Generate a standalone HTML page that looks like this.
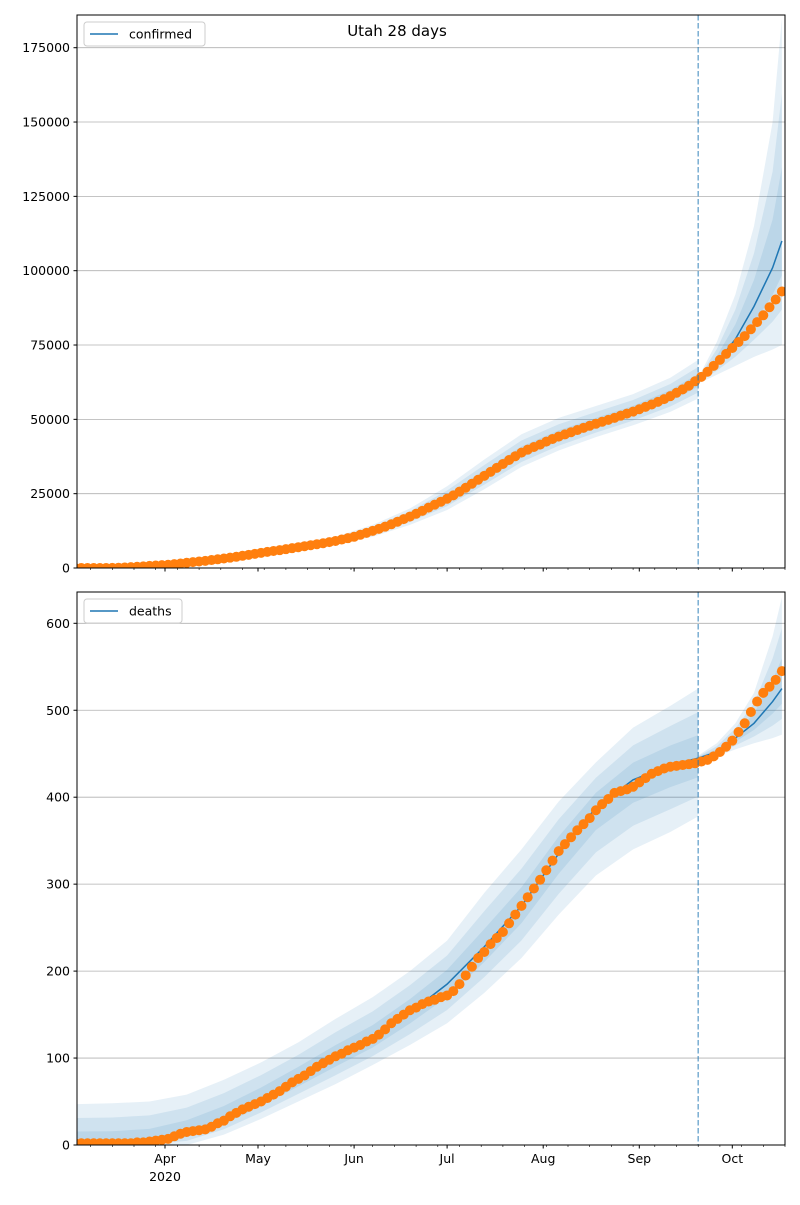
<!DOCTYPE html>
<html><head><meta charset="utf-8"><style>
body{margin:0;background:#fff}
svg text{font-family:"DejaVu Sans","Liberation Sans",sans-serif;fill:#000}
</style></head><body>
<svg id="s" width="800" height="1200" xmlns="http://www.w3.org/2000/svg">
<defs>
<clipPath id="c1"><rect x="77" y="15" width="708" height="553"/></clipPath>
<clipPath id="c2"><rect x="77" y="592" width="708" height="553"/></clipPath>
</defs>
<text x="397" y="36" text-anchor="middle" font-size="15">Utah 28 days</text>
</svg>
<script>
// day index 0 = Mar 3 2020
const monthLabels=["Apr","May","Jun","Jul","Aug","Sep","Oct"];
const monthDays=[29,59,90,120,151,182,212];
const forecastStart=201;
const obsDays=[];for(let d=0;d<=228;d+=2)obsDays.push(d);
const confObs=[0,0,0,0,5,20,50,100,180,300,420,550,700,830,960,1080,1300,1520,1750,1980,2200,2400,2670,2930,3200,3470,3770,4100,4430,4770,5100,5430,5730,6000,6330,6670,7000,7330,7670,8000,8330,8700,9100,9570,10030,10500,11170,11830,12500,13170,13900,14700,15570,16430,17300,18230,19230,20300,21300,22300,23300,24430,25670,27000,28330,29670,31000,32330,33670,35000,36330,37600,38800,39800,40700,41500,42500,43400,44200,44930,45670,46400,47130,47830,48500,49170,49830,50500,51230,51930,52600,53400,54200,55000,55870,56800,57800,58930,60100,61300,62800,64300,66000,68000,70000,72000,74000,76000,78000,80300,82700,85000,87700,90300,93000];
const deathObs=[2,2,2,2,2,2,2,2,2,2,3,3,4,5,6,7,10,13,15,16,17,18,21,25,28,33,37,41,44,47,50,54,58,62,67,72,76,80,85,90,94,98,102,105,109,112,115,119,122,127,133,140,145,150,155,158,162,165,167,170,172,177,185,195,205,215,222,231,238,245,255,265,275,285,295,305,316,327,338,346,354,362,369,376,385,392,398,405,407,409,412,417,422,427,430,433,435,436,437,438,439,441,443,447,452,458,465,475,485,498,510,520,527,535,545];
const fitDays=[0,12,24,36,48,60,72,84,96,108,120,132,144,156,168,180,192,201];
const confFitMean=[0,50,700,1750,3200,5100,7000,9100,12500,17300,23300,31000,38800,44200,48500,52600,57800,63000];
const confFitLo=[0,0,400,1300,2600,4300,6000,7800,10500,14500,19500,26500,34000,39500,44000,48000,52500,57000];
const confFitHi=[300,400,1100,2300,3900,6000,8200,10500,14500,20000,27500,36500,45000,50500,54500,58500,64000,70000];
const fcDays=[201,207,213,219,225,228];
const confFcMean=[63000,69000,77000,88000,101000,110000];
const confFcLo=[62000,65000,68000,71000,73500,75000];
const confFcHi=[64000,76000,92000,115000,150000,185000];
const deathFitMean=[0,0,3,14,30,52,76,100,122,152,185,228,275,335,388,420,437,445];
const deathFitLo=[0,0,0,0,12,30,50,70,92,115,140,175,215,265,310,340,360,378];
const deathFitHi=[47,48,50,58,75,95,118,145,170,200,235,290,340,395,440,480,505,525];
const deathFcMean=[445,452,468,485,510,525];
const deathFcLo=[442,447,455,462,468,472];
const deathFcHi=[448,462,485,520,585,630];

const S=document.getElementById('s');const NS="http://www.w3.org/2000/svg";
function mk(t,a,p){const e=document.createElementNS(NS,t);for(const k in a)e.setAttribute(k,a[k]);(p||S).appendChild(e);return e;}
const X=d=>165+(d-29)*3.1;
function panel(top,bot,ymax,clip,name,fd,fm,fl,fh,cd,cm,cl,ch,obs,ticks,showX){
  const Y=v=>bot-(v/ymax)*(bot-top);
  const g=mk('g',{});
  
  
  for(const v of ticks){const y=Y(v);
    const gl=mk('line',{x1:77,x2:785,y1:y,y2:y,stroke:'#b0b0b0','stroke-width':0.8},g);
    
    mk('line',{x1:73.5,x2:77,y1:y,y2:y,stroke:'#000'},g);
    const t=mk('text',{x:70,y:y+4.5,'text-anchor':'end','font-size':12.5},g);t.textContent=v;
    }
  const cg=mk('g',{'clip-path':`url(#${clip})`},g);
  function band(days,mean,lo,hi,k){
    let p='';days.forEach((d,i)=>{p+=(i?'L':'M')+X(d)+','+Y(mean[i]+(hi[i]-mean[i])*k);});
    for(let i=days.length-1;i>=0;i--)p+='L'+X(days[i])+','+Y(mean[i]+(lo[i]-mean[i])*k);
    const e=mk('path',{d:p+'Z',fill:'rgba(31,119,180,0.11)'},cg);
    }
  for(const k of [1,0.66,0.33]){band(fd,fm,fl,fh,k);band(cd,cm,cl,ch,k);}
  function line(days,vals){const e=mk('polyline',{points:days.map((d,i)=>X(d)+','+Y(vals[i])).join(' '),fill:'none',stroke:'#1f77b4','stroke-width':1.5},cg);
    }
  line(fd,fm);line(cd,cm);
  obsDays.forEach((d,i)=>{const c=mk('circle',{cx:X(d),cy:Y(obs[i]),r:5,fill:'#ff7f0e'},cg);
    });
  const vl=mk('line',{x1:X(forecastStart),x2:X(forecastStart),y1:top,y2:bot,stroke:'#1f77b4','stroke-opacity':0.6,'stroke-width':1.5,'stroke-dasharray':'5.5,2.5'},g);
  
  for(let d=5;d<=229;d+=7)mk('line',{x1:X(d),x2:X(d),y1:bot,y2:bot+2,stroke:'#000','stroke-width':0.6},g);
  monthDays.forEach((d,i)=>{mk('line',{x1:X(d),x2:X(d),y1:bot,y2:bot+3.5,stroke:'#000'},g);
    if(showX){const t=mk('text',{x:X(d),y:bot+18,'text-anchor':'middle','font-size':12.5},g);t.textContent=monthLabels[i];
      }});
  const fr=mk('rect',{x:77,y:top,width:708,height:bot-top,fill:'none',stroke:'#000','stroke-width':1},g);
  
  const lg=mk('g',{},g);
  
  const w=name==='confirmed'?121:98;
  mk('rect',{x:84,y:top+7,width:w,height:24,rx:3,fill:'#fff',stroke:'#ccc'},lg);
  mk('line',{x1:90,x2:118,y1:top+19,y2:top+19,stroke:'#1f77b4','stroke-width':1.5},lg);
  const lt=mk('text',{x:129,y:top+23.5,'font-size':12.5},lg);lt.textContent=name;
}
panel(15,568,186000,'c1','confirmed',fitDays,confFitMean,confFitLo,confFitHi,fcDays,confFcMean,confFcLo,confFcHi,confObs,[0,25000,50000,75000,100000,125000,150000,175000],false);
panel(592,1145,636,'c2','deaths',fitDays,deathFitMean,deathFitLo,deathFitHi,fcDays,deathFcMean,deathFcLo,deathFcHi,deathObs,[0,100,200,300,400,500,600],true);
const yr=mk('text',{x:165,y:1181,'text-anchor':'middle','font-size':12.5});yr.textContent='2020';


</script>
</body></html>
